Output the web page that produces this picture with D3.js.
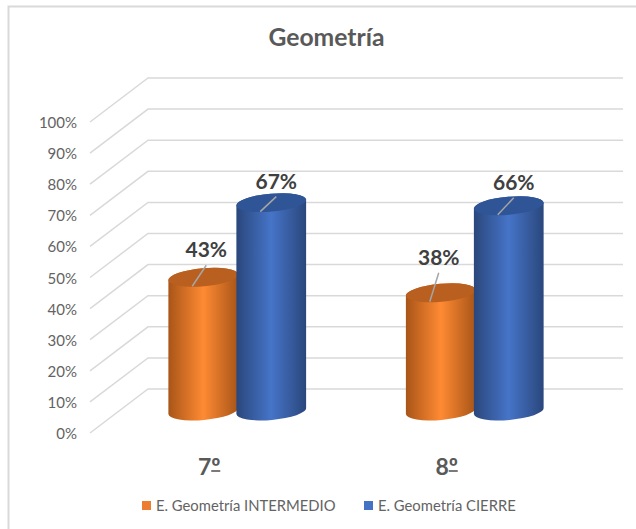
<!DOCTYPE html>
<html>
<head>
<meta charset="utf-8">
<script src="https://cdn.jsdelivr.net/npm/d3@7"></script>
<style>
  html, body { margin: 0; padding: 0; background: #fff; }
  svg { display: block; font-family: Lato, "Open Sans", sans-serif; }
</style>
</head>
<body>
<div id="chart"></div>
<script>
var categories = ['7º', '8º'];
var seriesNames = ['E. Geometría INTERMEDIO', 'E. Geometría CIERRE'];
var intermedio = [43, 38];
var cierre = [67, 66];
var ticks = [0, 10, 20, 30, 40, 50, 60, 70, 80, 90, 100];

var _colors = [
    ['#a85518', '#ff8a33', '#a85518', '#b95f1f', '#ed7d31'], // orange: edge, mid, edge, cap, legend
    ['#2a477c', '#4674c8', '#2a477c', '#2f5597', '#4472c4']  // blue
];

// data labels were dragged by hand in the original: [dx, lift] per series, per category
var _labelNudge = [
    [[3, 20], [-2, 28]],
    [[5, 14], [5, 16]]
];

var width = 636, height = 529;

// floor corners of the fake 3d box
var frontX = 90, backX = 148, endX = 623;
var depthY = 44;

var y = d3.scaleLinear().domain([0, 100]).range([433, 122]);
var x = d3.scaleBand().domain(categories).range([118.5, 593.5]);

// the cylinders stand half way into the box
var midShift = -22;

var rx = 35, ry = 9, tilt = -5;

var svg = d3.select('#chart').append('svg')
    .attr('width', width)
    .attr('height', height);

var defs = svg.append('defs');
_colors.forEach(function(c, i){
    var grad = defs.append('linearGradient')
        .attr('id', 'cyl' + i)
        .attr('x1', 0).attr('x2', 1).attr('y1', 0).attr('y2', 0);
    grad.append('stop').attr('offset', '0%').attr('stop-color', c[0]);
    grad.append('stop').attr('offset', '50%').attr('stop-color', c[1]);
    grad.append('stop').attr('offset', '100%').attr('stop-color', c[2]);
});

// outer frame, only top and left show
svg.append('path')
    .attr('d', 'M8.5,529V6.5H636')
    .attr('fill', 'none')
    .attr('stroke', '#d9d9d9')
    .attr('stroke-width', 2);

svg.append('text')
    .attr('x', 326.5)
    .attr('y', 46)
    .attr('text-anchor', 'middle')
    .attr('font-size', 24.7)
    .attr('font-weight', 700)
    .attr('fill', '#595959')
    .text('Geometría');

// gridlines: diagonal wall + back wall
svg.append('g').selectAll('path')
    .data(ticks)
    .enter().append('path')
        .attr('fill', 'none')
        .attr('stroke', '#d9d9d9')
        .attr('stroke-width', 1.5)
        .attr('d', function(d){
            var yf = y(d);
            return 'M' + frontX + ',' + yf + 'L' + backX + ',' + (yf - depthY) + 'H' + endX;
        });

svg.append('g').selectAll('text')
    .data(ticks)
    .enter().append('text')
        .attr('x', 77)
        .attr('y', function(d){ return y(d) + 6; })
        .attr('text-anchor', 'end')
        .attr('font-size', 15)
        .attr('fill', '#636363')
        .text(function(d){ return d + '%'; });

function _sidePoints(cx, cy){
    // side points of a tilted ellipse
    var a = tilt * Math.PI / 180;
    var dx = rx * Math.cos(a), dy = rx * Math.sin(a);
    return {
        left: [cx - dx, cy - dy],
        right: [cx + dx, cy + dy]
    };
}

function _drawCylinder(g, cx, value, s, nudge){
    var baseY = y(0) + midShift;
    var topY = y(value) + midShift;
    var b = _sidePoints(cx, baseY), t = _sidePoints(cx, topY);
    var arc = 'A' + rx + ',' + ry + ' ' + tilt + ' 0 0 ';

    g.append('path')
        .attr('fill', 'url(#cyl' + s + ')')
        .attr('d', 'M' + t.left + 'L' + b.left + arc + b.right + 'L' + t.right + arc + t.left + 'Z');

    g.append('ellipse')
        .attr('cx', cx).attr('cy', topY)
        .attr('rx', rx).attr('ry', ry)
        .attr('transform', 'rotate(' + tilt + ' ' + cx + ' ' + topY + ')')
        .attr('fill', _colors[s][3]);

    var labelX = cx + nudge[0], labelY = topY - nudge[1];

    // leader line from the cap up to the label
    g.append('line')
        .attr('x1', cx - 11).attr('y1', topY + 9)
        .attr('x2', labelX).attr('y2', labelY + 8)
        .attr('stroke', '#a6a6a6')
        .attr('stroke-width', 1.5);

    g.append('text')
        .attr('x', labelX)
        .attr('y', labelY)
        .attr('text-anchor', 'middle')
        .attr('font-size', 21)
        .attr('font-weight', 700)
        .attr('fill', '#404040')
        .text(value + '%');
}

var bars = svg.append('g');
categories.forEach(function(c, i){
    var mid = x(c) + x.bandwidth() / 2;
    _drawCylinder(bars, mid - 34, intermedio[i], 0, _labelNudge[0][i]);
    _drawCylinder(bars, mid + 34, cierre[i], 1, _labelNudge[1][i]);
});

var catLabels = svg.append('g').selectAll('g')
    .data(categories)
    .enter().append('g')
        .attr('transform', function(d){ return 'translate(' + (x(d) + x.bandwidth() / 2 - 28) + ',475)'; });

catLabels.append('text')
    .attr('text-anchor', 'middle')
    .attr('font-size', 23)
    .attr('font-weight', 700)
    .attr('fill', '#595959')
    .text(function(d){ return d; });

// bar under the ordinal sign, the font here has none
catLabels.append('line')
    .attr('x1', 2).attr('x2', 11)
    .attr('y1', -4).attr('y2', -4)
    .attr('stroke', '#595959')
    .attr('stroke-width', 1.6);

// legend
var legendX = [142, 364];
var legend = svg.append('g').selectAll('g')
    .data(seriesNames)
    .enter().append('g')
        .attr('transform', function(d, i){ return 'translate(' + legendX[i] + ',505.5)'; });

legend.append('rect')
    .attr('x', 0).attr('y', -4.5)
    .attr('width', 9).attr('height', 9)
    .attr('fill', function(d, i){ return _colors[i][4]; });

legend.append('text')
    .attr('x', 14)
    .attr('y', 5.5)
    .attr('font-size', 14.8)
    .attr('fill', '#636363')
    .text(function(d){ return d; });
</script>
</body>
</html>
